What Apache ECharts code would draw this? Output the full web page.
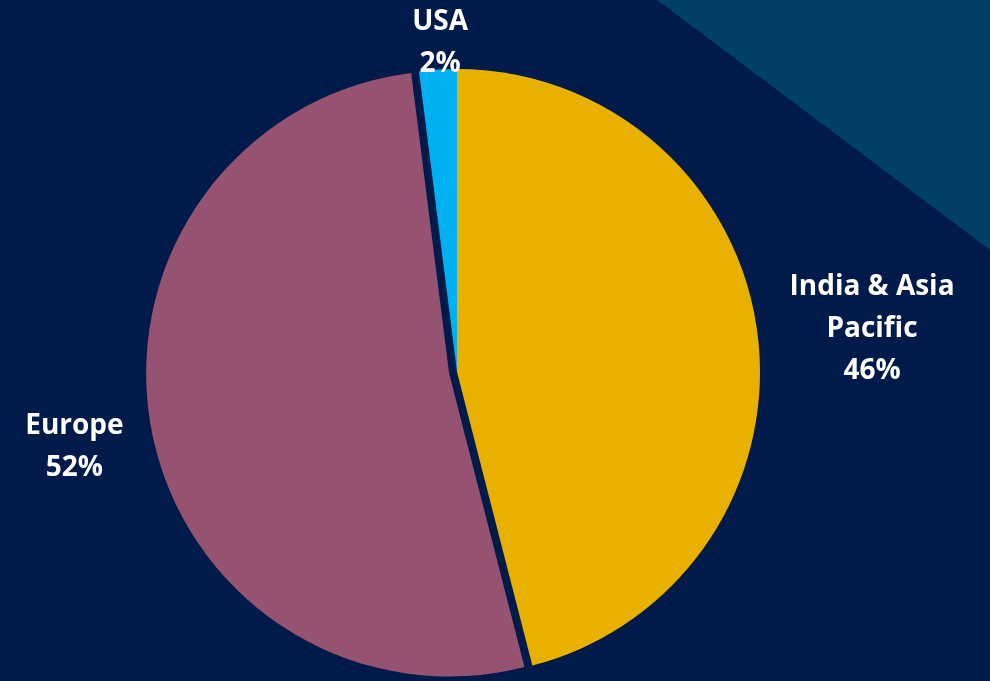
<!DOCTYPE html>
<html>
<head>
<meta charset="utf-8">
<script src="https://cdn.jsdelivr.net/npm/echarts@6/dist/echarts.min.js"></script>
<style>
  html, body { margin: 0; padding: 0; background: #001a4a; }
  #chart { width: 990px; height: 681px; }
</style>
</head>
<body>
<div id="chart"></div>
<script>
// regions, clockwise from 12 o'clock
const regions = ['India & Asia\nPacific', 'Europe', 'USA'];
const shares = [46, 52, 2];
const sliceColors = ['#e8b100', '#955271', '#00b0f0'];
// small nudges for label text (dx, dy)
const labelNudge = [[-18, -3], [14, 15], [66, -12]];

const chart = echarts.init(document.getElementById('chart'));

const pieCenter = [457, 372];
const pieRadius = 303;

const option = {
  backgroundColor: '#001a4a',
  animation: false,
  graphic: [
    {
      type: 'polygon',
      shape: { points: [[657, 0], [990, 0], [990, 250]] },
      style: { fill: '#003f66' },
      z: -1,
    },
  ],
  series: [
    {
      // slices
      type: 'pie',
      center: pieCenter,
      radius: pieRadius,
      startAngle: 90,
      clockwise: true,
      selectedMode: 'single',
      selectedOffset: 8,
      select: { itemStyle: { borderWidth: 0 } },
      emphasis: { disabled: true },
      label: { show: false },
      labelLine: { show: false },
      data: regions.map((name, i) => ({
        name: name,
        value: shares[i],
        selected: name === 'Europe',
        itemStyle: { color: sliceColors[i] },
      })),
    },
    {
      // labels
      type: 'pie',
      center: pieCenter,
      radius: pieRadius,
      startAngle: 90,
      clockwise: true,
      silent: true,
      z: 3,
      itemStyle: { color: 'rgba(0,0,0,0)' },
      label: {
        show: true,
        position: 'outside',
        formatter: '{b}\n{d}%',
        color: '#ffffff',
        fontFamily: 'Open Sans',
        fontWeight: 'bold',
        fontSize: 28,
        lineHeight: 42,
      },
      labelLine: { show: false },
      labelLayout: function (params) {
        const r = params.labelRect;
        const n = labelNudge[params.dataIndex] || [0, 0];
        return {
          x: r.x + r.width / 2 + n[0],
          y: r.y + r.height / 2 + n[1],
          align: 'center',
          verticalAlign: 'middle',
        };
      },
      data: regions.map((name, i) => ({ name: name, value: shares[i] })),
    },
  ],
};

chart.setOption(option);
</script>
</body>
</html>
